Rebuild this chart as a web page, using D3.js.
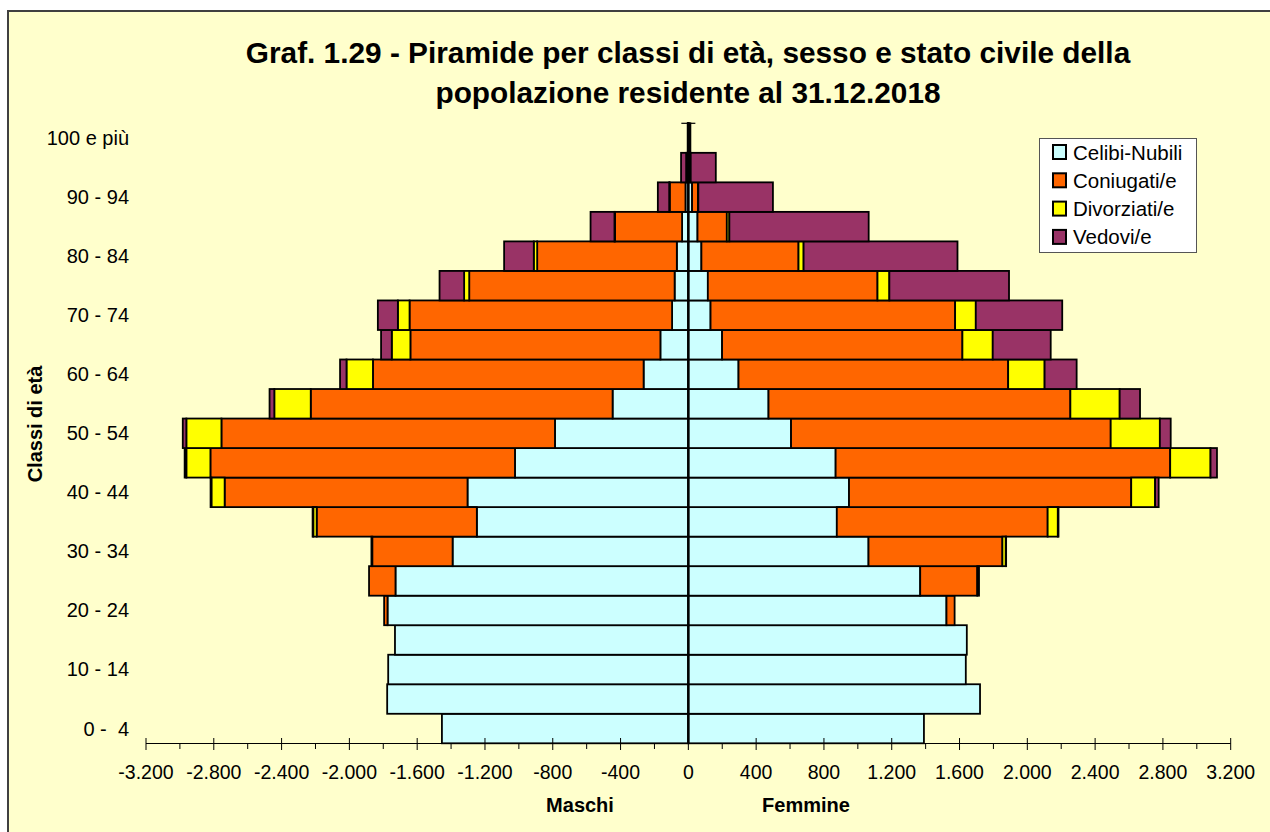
<!DOCTYPE html>
<html>
<head>
<meta charset="utf-8">
<script src="https://d3js.org/d3.v7.min.js"></script>
<style>
    body { margin: 0; background: #fff; }
    svg text { font-family: "Liberation Sans", Arial, sans-serif; fill: #000; }
</style>
</head>
<body>
<svg></svg>
<script>
    const width = 1270;
    const height = 832;

    // classi di eta, dal basso verso l'alto
    const classi = ["0 -  4", "5 -  9", "10 - 14", "15 - 19", "20 - 24", "25 - 29", "30 - 34",
        "35 - 39", "40 - 44", "45 - 49", "50 - 54", "55 - 59", "60 - 64", "65 - 69",
        "70 - 74", "75 - 79", "80 - 84", "85 - 89", "90 - 94", "95 - 99", "100 e più"];

    const stati = ["Celibi-Nubili", "Coniugati/e", "Divorziati/e", "Vedovi/e"];
    const colori = ["#CCFFFF", "#FF6600", "#FFFF00", "#993366"];

    // maschi
    const mCelibi    = [1454, 1777, 1771, 1731, 1775, 1728, 1391, 1248, 1303, 1023, 787, 447, 264, 165, 96, 81, 68, 37, 17, 5, 1];
    const mConiugati = [0, 0, 0, 0, 20, 156, 474, 945, 1433, 1797, 1968, 1781, 1597, 1475, 1549, 1212, 824, 396, 93, 8, 1];
    const mDivorziati= [0, 0, 0, 0, 0, 0, 5, 20, 78, 142, 207, 215, 156, 110, 69, 30, 20, 3, 3, 0, 0];
    const mVedovi    = [0, 0, 0, 0, 0, 0, 0, 4, 5, 10, 21, 28, 38, 63, 118, 145, 175, 141, 67, 30, 2];

    // femmine
    const fNubili    = [1390, 1721, 1637, 1643, 1523, 1368, 1063, 876, 948, 869, 606, 473, 296, 199, 131, 115, 77, 54, 22, 8, 1];
    const fConiugate = [0, 0, 0, 0, 48, 337, 790, 1244, 1665, 1974, 1886, 1781, 1591, 1418, 1443, 1001, 573, 173, 35, 6, 1];
    const fDivorziate= [0, 0, 0, 0, 0, 10, 20, 60, 141, 238, 290, 291, 215, 179, 122, 70, 30, 15, 2, 0, 0];
    const fVedove    = [0, 0, 0, 0, 0, 0, 2, 4, 21, 38, 64, 120, 189, 342, 510, 706, 908, 822, 440, 148, 10];

    const xTicks = d3.range(-3200, 3201, 400);

    const svg = d3.select("svg").attr("width", width).attr("height", height);

    // sfondo e cornice
    svg.append("rect").attr("x", 8).attr("y", 11).attr("width", 1300).attr("height", 900)
        .style("fill", "#FFFFCC").style("stroke", "#404040").style("stroke-width", 2);

    const x = d3.scaleLinear().domain([-3200, 3200]).range([146, 1230.7]);
    const y = d3.scaleBand().domain(classi).range([743.3, 123.3]).padding(0);

    function righe(a, b, c, d) {
        return classi.map((k, i) => ({ classe: k, s0: a[i], s1: b[i], s2: c[i], s3: d[i] }));
    }
    const stack = d3.stack().keys(["s0", "s1", "s2", "s3"]);
    const maschi = stack(righe(mCelibi, mConiugati, mDivorziati, mVedovi));
    const femmine = stack(righe(fNubili, fConiugate, fDivorziate, fVedove));

    function disegna(serie, segno) {
        const g = svg.append("g");
        serie.forEach((s, si) => {
            g.selectAll(null)
                .data(s)
                .enter().append("rect")
                .attr("x", d => Math.min(x(segno * d[0]), x(segno * d[1])))
                .attr("width", d => Math.abs(x(segno * d[1]) - x(segno * d[0])))
                .attr("y", d => y(d.data.classe))
                .attr("height", y.bandwidth())
                .style("fill", colori[si])
                .style("stroke", "#000")
                .style("stroke-width", 1.8);
        });
    }
    disegna(maschi, -1);
    disegna(femmine, 1);

    // asse x
    const xAxis = svg.append("g");
    xAxis.append("line").attr("x1", x(-3200)).attr("x2", x(3200))
        .attr("y1", 743.5).attr("y2", 743.5).style("stroke", "#000").style("stroke-width", 1);
    xAxis.selectAll(".maj").data(xTicks).enter().append("line")
        .attr("x1", d => x(d)).attr("x2", d => x(d)).attr("y1", 738).attr("y2", 750)
        .style("stroke", "#000").style("stroke-width", 1);
    xAxis.selectAll(".min").data(xTicks.slice(1).map(d => d - 200)).enter().append("line")
        .attr("x1", d => x(d)).attr("x2", d => x(d)).attr("y1", 743).attr("y2", 749)
        .style("stroke", "#000").style("stroke-width", 1);
    const fmt = d3.formatLocale({ decimal: ",", thousands: ".", grouping: [3], currency: ["", "€"], minus: "-" }).format(",d");
    xAxis.selectAll("text").data(xTicks).enter().append("text")
        .attr("x", d => x(d)).attr("y", 779)
        .attr("text-anchor", "middle")
        .style("font-size", "19.5px")
        .text(d => fmt(d));

    // asse verticale
    const yAxis = svg.append("g");
    yAxis.append("line").attr("x1", x(0)).attr("x2", x(0)).attr("y1", 123.3).attr("y2", 743.3)
        .style("stroke", "#000").style("stroke-width", 2.4);
    yAxis.selectAll("line.t").data(classi.slice(-1)).enter().append("line")
        .attr("x1", x(0) - 7).attr("x2", x(0) + 7)
        .attr("y1", d => y(d)).attr("y2", d => y(d))
        .style("stroke", "#000").style("stroke-width", 1.2);
    yAxis.selectAll("text").data(classi.filter((d, i) => i % 2 === 0)).enter().append("text")
        .attr("x", 129).attr("y", d => y(d) + y.bandwidth() / 2 + 7)
        .attr("text-anchor", "end")
        .style("font-size", "20px")
        .style("white-space", "pre")
        .text(d => d);

    // titoli
    const titolo = ["Graf. 1.29 - Piramide per classi di età, sesso e stato civile della",
        "popolazione residente al 31.12.2018"];
    svg.selectAll("text.titolo").data(titolo).enter().append("text")
        .attr("class", "titolo")
        .attr("x", 688).attr("y", (d, i) => 63 + i * 40)
        .attr("text-anchor", "middle")
        .style("font-size", "29.8px").style("font-weight", "bold")
        .text(d => d);

    svg.append("text").attr("transform", "translate(42,424) rotate(-90)")
        .attr("text-anchor", "middle")
        .style("font-size", "20px").style("font-weight", "bold")
        .text("Classi di età");

    svg.append("text").attr("x", 580).attr("y", 812).attr("text-anchor", "middle")
        .style("font-size", "20px").style("font-weight", "bold").text("Maschi");
    svg.append("text").attr("x", 806).attr("y", 812).attr("text-anchor", "middle")
        .style("font-size", "20px").style("font-weight", "bold").text("Femmine");

    // legenda
    const legenda = svg.append("g");
    legenda.append("rect").attr("x", 1039.5).attr("y", 138.5).attr("width", 157).attr("height", 114)
        .style("fill", "#fff").style("stroke", "#555").style("stroke-width", 1);
    const voci = legenda.selectAll("g").data(stati).enter().append("g")
        .attr("transform", (d, i) => `translate(0,${152 + i * 28.3})`);
    voci.append("rect").attr("x", 1053).attr("y", -7).attr("width", 13).attr("height", 14)
        .style("fill", (d, i) => colori[i]).style("stroke", "#000").style("stroke-width", 2);
    voci.append("text").attr("x", 1073).attr("y", 7.5)
        .style("font-size", "20.5px")
        .text(d => d);
</script>
</body>
</html>
